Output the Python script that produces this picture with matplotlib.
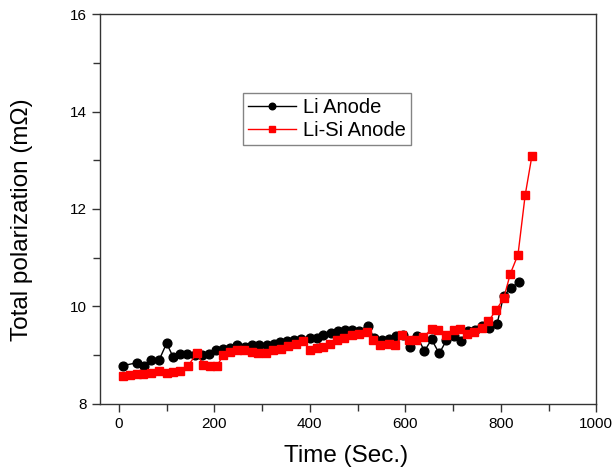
import matplotlib
matplotlib.use("Agg")
import matplotlib.pyplot as plt
from matplotlib.ticker import MultipleLocator

plt.rcParams['font.family'] = ['Liberation Sans', 'DejaVu Sans']

li_time = [8, 38, 53, 68, 84, 100, 114, 129, 143, 159, 175, 189, 203, 218, 233,
           247, 264, 278, 294, 310, 324, 338, 352, 366, 381, 400, 414, 428, 444,
           460, 474, 489, 504, 521, 535, 551, 566, 581, 596, 609, 625, 640, 655,
           671, 686, 701, 716, 731, 746, 760, 776, 792, 806, 822, 838]
li_pol = [8.78, 8.84, 8.77, 8.90, 8.89, 9.24, 8.95, 9.01, 9.01, 9.00, 9.00, 9.02,
          9.10, 9.13, 9.15, 9.20, 9.17, 9.21, 9.21, 9.20, 9.22, 9.26, 9.28, 9.31,
          9.33, 9.35, 9.34, 9.41, 9.45, 9.50, 9.51, 9.51, 9.50, 9.60, 9.35, 9.30,
          9.33, 9.38, 9.40, 9.17, 9.38, 9.08, 9.32, 9.03, 9.30, 9.39, 9.29, 9.50,
          9.51, 9.60, 9.55, 9.63, 10.22, 10.38, 10.50]

lisi_time = [9, 23, 37, 51, 68, 84, 100, 114, 128, 145, 163, 177, 191, 205, 219,
             233, 247, 262, 278, 292, 308, 323, 339, 355, 371, 386, 400, 414, 428,
             442, 456, 472, 488, 502, 519, 533, 547, 565, 579, 593, 607, 623, 638,
             656, 669, 686, 701, 715, 729, 744, 760, 774, 790, 806, 820, 836, 851,
             865]
lisi_pol = [8.57, 8.58, 8.60, 8.61, 8.62, 8.67, 8.63, 8.65, 8.68, 8.78, 9.03, 8.80,
            8.78, 8.77, 9.00, 9.06, 9.10, 9.11, 9.06, 9.03, 9.03, 9.11, 9.13, 9.19,
            9.22, 9.28, 9.10, 9.14, 9.17, 9.22, 9.30, 9.34, 9.41, 9.44, 9.47, 9.30,
            9.20, 9.22, 9.20, 9.41, 9.30, 9.30, 9.37, 9.54, 9.51, 9.41, 9.51, 9.54,
            9.44, 9.47, 9.56, 9.69, 9.92, 10.16, 10.67, 11.06, 12.28, 13.08]

fig = plt.figure(figsize=(6.16, 4.71), dpi=100)
ax = fig.add_axes([0.162, 0.143, 0.806, 0.827])

ax.plot(li_time, li_pol, color='black', marker='o', markersize=6.3, linewidth=1,
        label='Li Anode')
ax.plot(lisi_time, lisi_pol, color='red', marker='s', markersize=6, linewidth=1,
        label='Li-Si Anode')

ax.set_xlim(-40, 1000)
ax.set_ylim(8, 16)
ax.xaxis.set_major_locator(MultipleLocator(200))
ax.xaxis.set_minor_locator(MultipleLocator(100))
ax.yaxis.set_major_locator(MultipleLocator(2))
ax.yaxis.set_minor_locator(MultipleLocator(1))
ax.tick_params(which='both', direction='out', length=6, width=1, color='#333333',
               labelsize=11, top=False, right=False)
ax.tick_params(which='minor', length=5)
for s in ax.spines.values():
    s.set_color('#333333')
    s.set_linewidth(1)

ax.set_xlabel('Time (Sec.)', fontsize=17.5)
ax.xaxis.set_label_coords(0.497, -0.106)
ax.set_ylabel('Total polarization (mΩ)', fontsize=17.5)
ax.yaxis.set_label_coords(-0.135, 0.471)

leg = ax.legend(loc='upper left', bbox_to_anchor=(0.288, 0.797), fontsize=14.5,
                frameon=True, fancybox=False, edgecolor='#666666',
                handlelength=2.4, handletextpad=0.35, borderpad=0.25,
                borderaxespad=0, labelspacing=0.2, markerscale=0.75)
leg.get_frame().set_linewidth(1)

fig.savefig('out.png', dpi=100)
